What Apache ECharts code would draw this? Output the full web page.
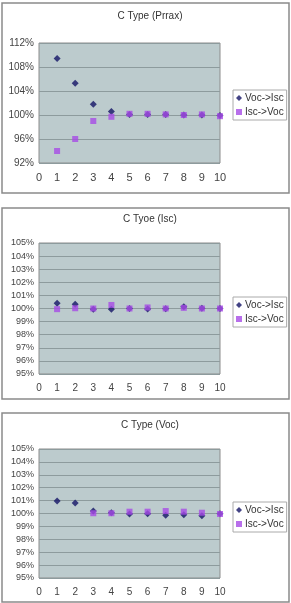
<!DOCTYPE html>
<html>
<head>
<meta charset="utf-8">
<script src="https://cdn.jsdelivr.net/npm/echarts@6/dist/echarts.min.js"></script>
<style>
  html, body { margin: 0; padding: 0; background: #fff; }
  #main { width: 291px; height: 603px; }
</style>
</head>
<body>
<div id="main"></div>
<script>
// 数据
var runs = [1, 2, 3, 4, 5, 6, 7, 8, 9, 10];
var titles = ['C Type (Prrax)', 'C Tyoe (Isc)', 'C Type (Voc)'];
var seriesNames = ['Voc->Isc', 'Isc->Voc'];

var pmaxVocIsc = [109.4, 105.3, 101.8, 100.6, 100.1, 100.1, 100.1, 100.0, 100.0, 99.9];
var pmaxIscVoc = [94.0, 96.0, 99.0, 99.7, 100.2, 100.2, 100.1, 100.0, 100.1, 99.8];
var iscVocIsc = [100.4, 100.33, 99.95, 99.95, 100.0, 99.97, 99.98, 100.13, 100.02, 100.0];
var iscIscVoc = [99.95, 100.02, 100.0, 100.27, 100.0, 100.08, 100.0, 100.05, 100.0, 100.0];
var vocVocIsc = [100.97, 100.81, 100.19, 100.05, 99.96, 99.98, 99.86, 99.9, 99.82, 99.98];
var vocIscVoc = [null, null, 100.02, 100.02, 100.14, 100.14, 100.19, 100.14, 100.06, 99.96];

var yTicks = [[92, 112, 4], [95, 105, 1], [95, 105, 1]];
var xTicks = [0, 10, 1];

var panels = [
  { data: [pmaxVocIsc, pmaxIscVoc], box: [2, 3, 287, 190], grid: [39, 43, 181, 120], title: 11, legend: 90, fs: 11 },
  { data: [iscVocIsc, iscIscVoc], box: [2, 208, 287, 191], grid: [39, 243, 181, 131], title: 214, legend: 297, fs: 10 },
  { data: [vocVocIsc, vocIscVoc], box: [2, 413, 287, 189], grid: [39, 449, 181, 129], title: 420, legend: 502, fs: 10 }
];

var myChart = echarts.init(document.getElementById('main'));
var option = {
  animation: false,
  backgroundColor: '#fff',
  textStyle: { fontFamily: 'Liberation Sans' },
  title: [], legend: [], grid: [], xAxis: [], yAxis: [], series: [], graphic: []
};

panels.forEach(function (p, i) {
  option.graphic.push({
    type: 'rect', silent: true, z: -1,
    shape: { x: p.box[0], y: p.box[1], width: p.box[2], height: p.box[3] },
    style: { fill: '#fff', stroke: '#8a8a8a', lineWidth: 1.5 }
  });
  option.title.push({
    text: titles[i], left: 150, top: p.title, textAlign: 'center', padding: 0,
    textStyle: { fontSize: 10, fontWeight: 'normal', color: '#333', fontFamily: 'Liberation Sans' }
  });
  option.legend.push({
    data: [
      { name: seriesNames[0] + i, icon: 'diamond' },
      { name: seriesNames[1] + i, icon: 'rect' }
    ],
    formatter: function (n) { return n.slice(0, -1); },
    orient: 'vertical', left: 233, top: p.legend,
    itemWidth: 6, itemHeight: 6, itemGap: 4,
    padding: [3, 3, 3, 3],
    borderColor: '#aaa', borderWidth: 1, backgroundColor: '#fff',
    textStyle: { fontSize: 10, color: '#333', padding: [0, 0, 0, -2] }
  });
  option.grid.push({
    left: p.grid[0], top: p.grid[1], width: p.grid[2], height: p.grid[3],
    show: true, backgroundColor: '#bccbcd', borderColor: '#8c8c8c', borderWidth: 1
  });
  option.xAxis.push({
    type: 'value', gridIndex: i, min: xTicks[0], max: xTicks[1], interval: xTicks[2],
    axisLine: { show: false }, axisTick: { show: false }, splitLine: { show: false },
    axisLabel: { fontSize: p.fs, color: '#444', margin: 9 }
  });
  option.yAxis.push({
    type: 'value', gridIndex: i, min: yTicks[i][0], max: yTicks[i][1], interval: yTicks[i][2],
    axisLine: { show: false }, axisTick: { show: false },
    splitLine: { lineStyle: { color: '#8d9b9d', width: 1 } },
    axisLabel: { fontSize: p.fs - 1, color: '#444', margin: 5, formatter: '{value}%' }
  });
  option.series.push({
    name: seriesNames[0] + i, type: 'scatter', xAxisIndex: i, yAxisIndex: i,
    symbol: 'diamond', symbolSize: 7, itemStyle: { color: '#141466' }, z: 3,
    data: runs.map(function (r, k) { return [r, p.data[0][k]]; })
  });
  option.series.push({
    name: seriesNames[1] + i, type: 'scatter', xAxisIndex: i, yAxisIndex: i,
    symbol: 'rect', symbolSize: 6, itemStyle: { color: '#a64be6' }, z: 4,
    data: runs.map(function (r, k) { return [r, p.data[1][k]]; }).filter(function (d) { return d[1] !== null; })
  });
});

myChart.setOption(option);
</script>
</body>
</html>
